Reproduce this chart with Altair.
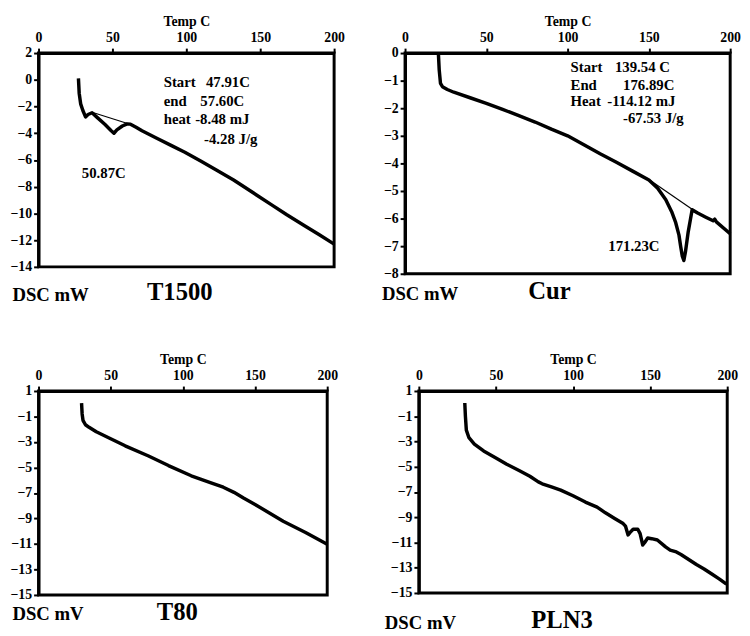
import altair as alt
import pandas as pd

FONT = "Liberation Serif"

# ---------------- data ----------------
# T1500
t1500_temp = [27.0, 27.5, 28.5, 30.0, 31.8, 33.5, 36.2, 40.0, 45.0, 49.0, 51.0, 53.0, 56.7, 60.0, 62.2,
              66.0, 70.0, 80.0, 90.0, 99.0, 110.0, 120.0, 132.0, 145.0, 158.0, 168.0, 180.0, 190.0, 200.0]
t1500_dsc = [0.1, -1.0, -1.8, -2.3, -2.78, -2.6, -2.47, -2.85, -3.35, -3.8, -4.0, -3.75, -3.46, -3.3, -3.32,
             -3.55, -3.81, -4.37, -4.93, -5.42, -6.1, -6.74, -7.5, -8.44, -9.38, -10.1, -10.92, -11.6, -12.3]
t1500_base_temp = [36.2, 64.0]
t1500_base_dsc = [-2.43, -3.4]
t1500_text = ["Start", "47.91C", "end", "57.60C", "heat", "-8.48 mJ", "-4.28 J/g", "50.87C"]
t1500_text_t = [84.7, 113.3, 84.7, 109.5, 84.7, 106.0, 112.0, 29.3]
t1500_text_y = [-0.14, -0.14, -1.61, -1.61, -2.94, -2.94, -4.42, -7.0]

# Cur
cur_temp = [20.5, 21.0, 21.8, 23.0, 26.0, 30.0, 40.0, 50.0, 60.0, 70.0, 80.0, 90.0, 100.0, 110.0, 120.0,
            130.0, 140.0, 150.0, 155.4, 160.4, 164.0, 166.5, 168.5, 169.5, 170.5, 171.5, 172.5, 174.1,
            176.6, 180.0, 185.0, 189.5, 190.5, 191.5, 200.0]
cur_dsc = [0.0, -0.6, -1.1, -1.22, -1.32, -1.42, -1.62, -1.82, -2.04, -2.27, -2.5, -2.76, -3.0, -3.32, -3.65,
           -3.96, -4.28, -4.6, -4.9, -5.32, -5.75, -6.15, -6.6, -6.99, -7.35, -7.52, -7.2, -6.51,
           -5.68, -5.8, -5.95, -6.08, -6.02, -6.12, -6.55]
cur_base_temp = [150.0, 176.6]
cur_base_dsc = [-4.58, -5.66]
cur_text = ["Start", "139.54 C", "End", "176.89C", "Heat", "-114.12 mJ", "-67.53 J/g", "171.23C"]
cur_text_t = [101.8, 129.1, 101.8, 134.1, 101.8, 124.4, 134.1, 125.0]
cur_text_y = [-0.5, -0.5, -1.15, -1.15, -1.75, -1.75, -2.35, -6.99]

# T80
t80_temp = [29.8, 30.2, 30.8, 32.5, 35.0, 40.0, 48.9, 60.0, 76.2, 90.0, 105.8, 120.0, 128.0, 135.4,
            142.0, 150.0, 169.5, 185.0, 200.0]
t80_dsc = [0.05, -0.8, -1.3, -1.65, -1.85, -2.2, -2.69, -3.3, -4.1, -4.85, -5.65, -6.22, -6.55, -6.95,
           -7.4, -7.9, -9.22, -10.1, -11.03]

# PLN3
pln3_temp = [29.8, 30.2, 30.8, 32.5, 36.0, 42.0, 50.0, 57.0, 65.0, 72.0, 77.5, 80.0, 86.0, 92.0, 100.0,
             108.0, 115.6, 121.0, 127.0, 132.5, 134.0, 135.7, 137.0, 139.0, 142.0, 143.5, 145.2, 146.5,
             148.4, 151.0, 154.7, 160.0, 163.0, 167.0, 170.0, 175.0, 180.0, 185.0, 190.0, 195.0, 199.5]
pln3_dsc = [0.05, -1.0, -2.1, -2.7, -3.2, -3.75, -4.3, -4.8, -5.3, -5.75, -6.2, -6.35, -6.6, -6.85, -7.3,
            -7.8, -8.2, -8.65, -9.1, -9.5, -9.7, -10.4, -10.2, -9.95, -9.95, -10.3, -11.2, -11.0,
            -10.65, -10.7, -10.8, -11.35, -11.6, -11.75, -11.95, -12.35, -12.75, -13.1, -13.5, -13.9, -14.3]

x_ticks = [0, 50, 100, 150, 200]


def panel(temp, dsc, ydom, yticks, width, height, ytitle, ttl, title_dx, ytitle_x, ytitle_y,
          base_t=None, base_y=None, txt=None, txt_t=None, txt_y=None):
    df = pd.DataFrame({"T": temp, "DSC": dsc, "i": list(range(len(temp)))})
    xenc = alt.X("T:Q", scale=alt.Scale(domain=[0, 200], nice=False, zero=False),
                 axis=alt.Axis(orient="top", values=x_ticks, title="Temp C", titleFontSize=14,
                               titlePadding=2, labelFontSize=14, labelPadding=4, labelFlush=False,
                               labelOverlap=False, grid=False))
    yenc = alt.Y("DSC:Q", scale=alt.Scale(domain=ydom, nice=False, zero=False),
                 axis=alt.Axis(values=yticks, title=ytitle, titleAngle=0, titleAlign="left",
                               titleBaseline="alphabetic", titleX=ytitle_x, titleY=ytitle_y,
                               titleFontSize=19, labelFontSize=14, labelPadding=2,
                               labelFlush=False, labelOverlap=False, grid=False))
    layers = [alt.Chart(df).mark_line(color="black", strokeWidth=3.5, strokeJoin="round")
              .encode(x=xenc, y=yenc, order="i:Q")]
    if base_t is not None:
        bdf = pd.DataFrame({"T": base_t, "DSC": base_y})
        layers.append(alt.Chart(bdf).mark_line(color="black", strokeWidth=1.2)
                      .encode(x=xenc, y=yenc))
    if txt is not None:
        tdf = pd.DataFrame({"label": txt, "T": txt_t, "DSC": txt_y})
        layers.append(alt.Chart(tdf).mark_text(font=FONT, fontWeight="bold", fontSize=15,
                                               align="left", baseline="middle", color="black")
                      .encode(x=xenc, y=yenc, text="label:N"))
    return alt.layer(*layers).properties(
        width=width, height=height,
        title=alt.TitleParams(text=ttl, orient="bottom", anchor="start", frame="group",
                              dx=title_dx, offset=-4, baseline="alphabetic", fontSize=25,
                              font=FONT, fontWeight="bold", color="black"),
    )


p1 = panel(t1500_temp, t1500_dsc, [-14, 2], list(range(2, -15, -2)), 300, 217, "DSC mW", "T1500",
           110, -27, 251, t1500_base_temp, t1500_base_dsc, t1500_text, t1500_text_t, t1500_text_y)
p2 = panel(cur_temp, cur_dsc, [-8, 0], list(range(0, -9, -1)), 330, 224, "DSC mW", "Cur",
           125, -24, 250, cur_base_temp, cur_base_dsc, cur_text, cur_text_t, cur_text_y)
p3 = panel(t80_temp, t80_dsc, [-15, 1], list(range(1, -16, -2)), 293, 207, "DSC mV", "T80",
           120, -27, 232)
p4 = panel(pln3_temp, pln3_dsc, [-15, 1], list(range(1, -16, -2)), 313, 205, "DSC mV", "PLN3",
           114, -35, 241)

chart = alt.vconcat(
    alt.hconcat(p1, p2, spacing=34),
    alt.hconcat(p3, p4, spacing=44),
    spacing=44,
).properties(
    padding={"left": 0, "top": 0, "right": 0, "bottom": 0},
    background="white",
).configure_view(
    stroke="black", strokeWidth=3
).configure_axis(
    labelFont=FONT, titleFont=FONT, labelFontWeight="bold", titleFontWeight="bold",
    labelColor="black", titleColor="black", domainColor="black", domainWidth=3,
    tickColor="black", tickWidth=2, tickSize=5, grid=False, labelOverlap=False
).configure_title(
    font=FONT, fontWeight="bold", color="black"
)

chart.save("out.html", embed_options={"renderer": "svg", "actions": False})
